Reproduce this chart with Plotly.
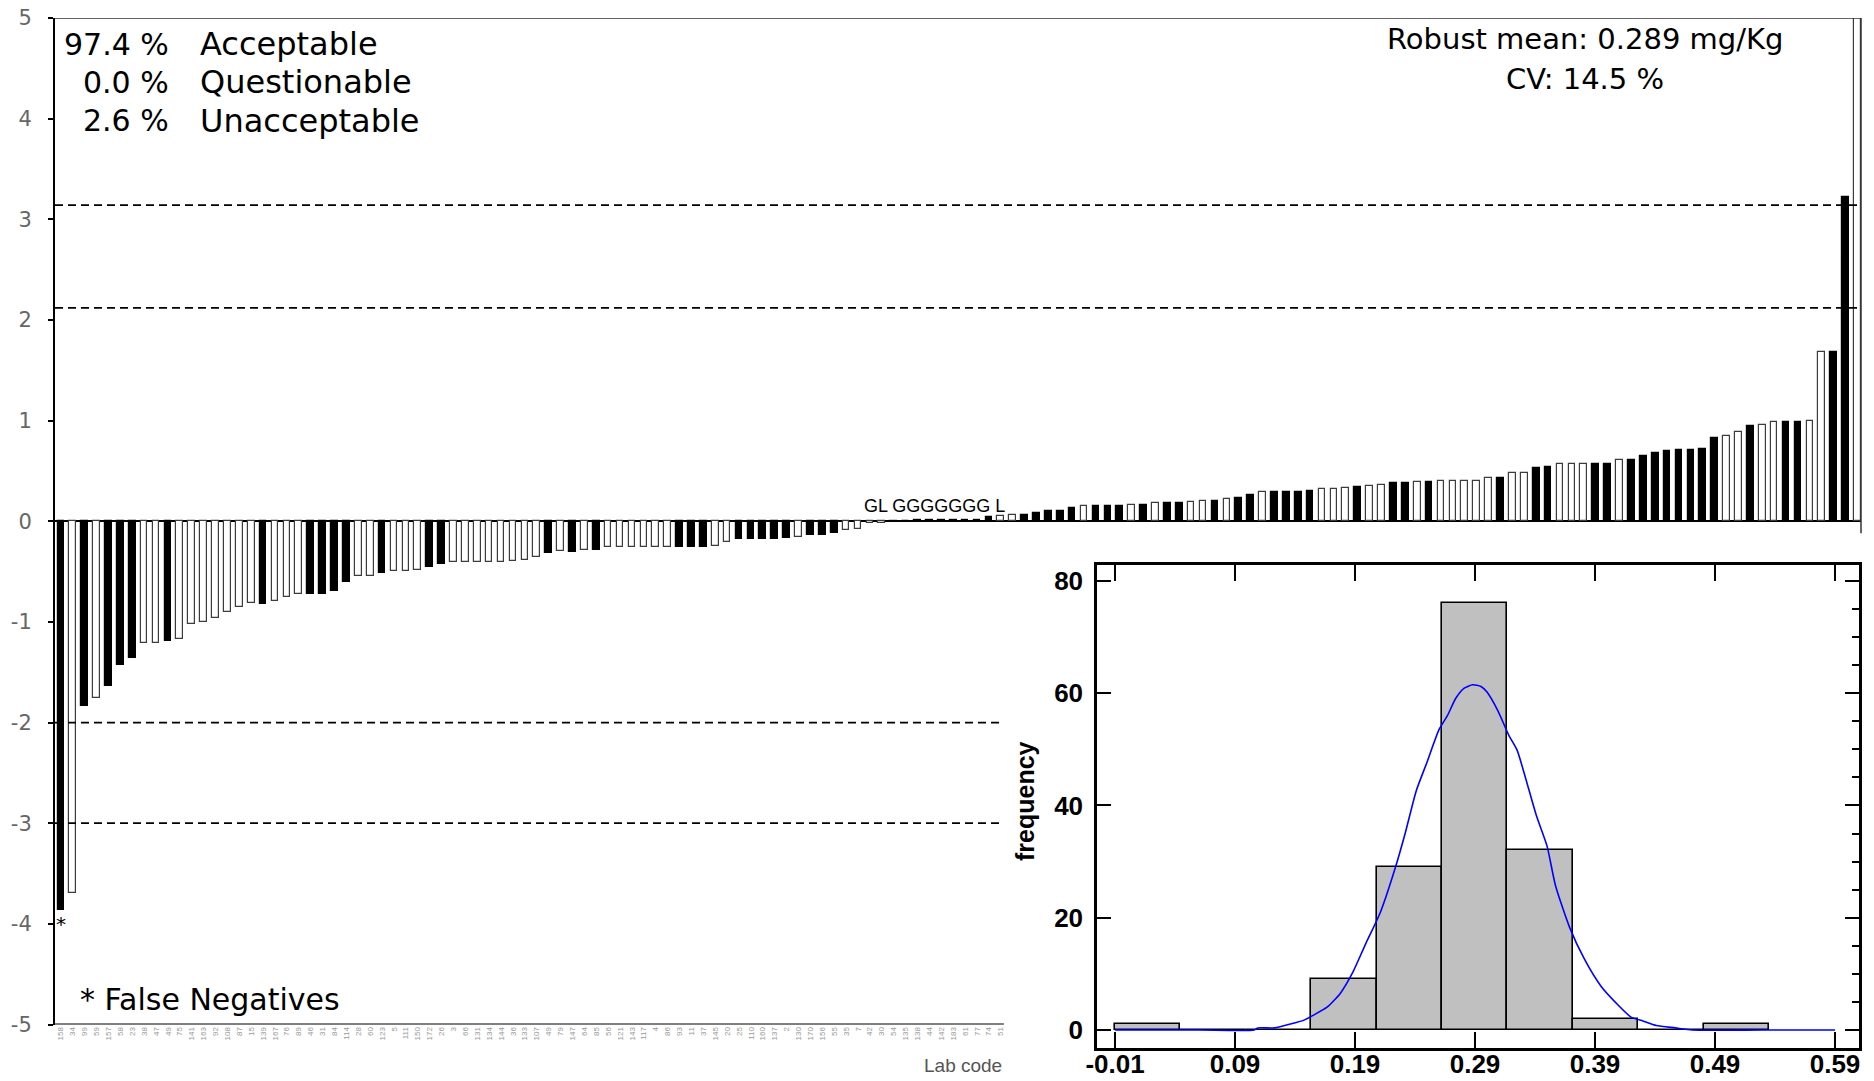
import plotly.graph_objects as go

# Lab codes printed under the first 80 bars (the rest sit behind the histogram inset)
lab_codes = [
    "158", "34", "99", "59", "157", "58", "23", "38", "47", "49",
    "75", "141", "163", "92", "108", "87", "15", "139", "167", "76",
    "89", "46", "31", "84", "114", "28", "60", "123", "5", "111",
    "150", "172", "26", "3", "66", "131", "134", "144", "36", "133",
    "107", "49", "79", "147", "64", "85", "56", "121", "143", "117",
    "4", "86", "93", "11", "37", "145", "20", "25", "110", "160",
    "137", "2", "130", "170", "156", "55", "35", "7", "42", "30",
    "54", "135", "138", "44", "142", "183", "61", "77", "74", "51",
]

# z-scores of all labs, sorted ascending
z_scores = [
    -3.86, -3.69, -1.84, -1.76, -1.64, -1.43, -1.36, -1.21, -1.21, -1.19,
    -1.17, -1.02, -1.00, -0.96, -0.90, -0.85, -0.81, -0.82, -0.79, -0.75,
    -0.72, -0.72, -0.72, -0.69, -0.60, -0.54, -0.54, -0.51, -0.49, -0.49,
    -0.48, -0.45, -0.42, -0.40, -0.40, -0.40, -0.40, -0.40, -0.39, -0.38,
    -0.36, -0.32, -0.30, -0.31, -0.29, -0.29, -0.26, -0.26, -0.26, -0.26,
    -0.26, -0.26, -0.26, -0.26, -0.26, -0.25, -0.21, -0.18, -0.18, -0.18,
    -0.18, -0.165, -0.155, -0.14, -0.14, -0.115, -0.09, -0.08, -0.02, -0.02,
    -0.005, 0.005, 0.012, 0.012, 0.012, 0.012, 0.012, 0.012, 0.043, 0.05,
    0.06, 0.066, 0.083, 0.10, 0.10, 0.13, 0.15, 0.15, 0.15, 0.15,
    0.165, 0.165, 0.178, 0.178, 0.178, 0.19, 0.205, 0.205, 0.22, 0.234,
    0.264, 0.29, 0.29, 0.29, 0.29, 0.30, 0.317, 0.32, 0.333, 0.337,
    0.347, 0.36, 0.376, 0.376, 0.39, 0.39, 0.403, 0.403, 0.403, 0.403,
    0.426, 0.432, 0.475, 0.475, 0.528, 0.541, 0.571, 0.571, 0.571, 0.571,
    0.571, 0.61, 0.61, 0.653, 0.683, 0.70, 0.71, 0.71, 0.72, 0.83,
    0.845, 0.885, 0.947, 0.957, 0.987, 0.987, 0.987, 1.00, 1.68, 1.68,
    3.22, 5.9,
]

# 1 = solid bar, 0 = hollow bar
group = [
    1, 0, 1, 0, 1, 1, 1, 0, 0, 1,
    0, 0, 0, 0, 0, 0, 0, 1, 0, 0,
    0, 1, 1, 1, 1, 0, 0, 1, 0, 0,
    0, 1, 1, 0, 0, 0, 0, 0, 0, 0,
    0, 1, 0, 1, 0, 1, 0, 0, 0, 0,
    0, 0, 1, 1, 1, 0, 0, 1, 1, 1,
    1, 1, 0, 1, 1, 1, 0, 0, 0, 0,
    1, 1, 1, 1, 1, 1, 1, 1, 1, 0,
    0, 1, 1, 1, 1, 1, 0, 1, 1, 1,
    0, 1, 0, 1, 1, 0, 0, 1, 0, 1,
    1, 0, 1, 1, 1, 1, 0, 0, 0, 1,
    0, 0, 1, 1, 0, 1, 0, 0, 0, 0,
    0, 1, 0, 0, 1, 1, 0, 0, 0, 1,
    1, 0, 1, 1, 1, 1, 1, 1, 1, 1,
    0, 0, 1, 0, 0, 1, 1, 0, 0, 1,
    1, 0,
]

upper_limits = [2.12, 3.14]
lower_limits = [-2.0, -3.0]
z_ticks = [-5, -4, -3, -2, -1, 0, 1, 2, 3, 4, 5]

# Histogram of reported concentrations (mg/Kg)
bin_left = [-0.01, 0.0445, 0.099, 0.1535, 0.208, 0.2625, 0.317, 0.3715, 0.426, 0.4805]
bin_count = [1, 0, 0, 9, 29, 76, 32, 2, 0, 1]
bin_width = 0.0545
hist_ticks = [-0.01, 0.09, 0.19, 0.29, 0.39, 0.49, 0.59]
freq_ticks = [0, 20, 40, 60, 80]

# Smoothed density curve
curve_x = [-0.01, 0.06, 0.106, 0.109, 0.123, 0.137, 0.148, 0.155, 0.167, 0.178,
           0.188, 0.199, 0.211, 0.223, 0.232, 0.241, 0.250, 0.260, 0.267, 0.274,
           0.281, 0.288, 0.295, 0.300, 0.309, 0.318, 0.325, 0.332, 0.341, 0.350,
           0.357, 0.369, 0.381, 0.395, 0.409, 0.420, 0.430, 0.441, 0.457, 0.471,
           0.53, 0.59]
curve_y = [0, 0, 0, 0.37, 0.37, 1.1, 1.8, 2.6, 4.1, 6.6,
           10.2, 15.4, 20.9, 28.5, 35.2, 42.6, 47.7, 53.5, 56.0, 59.1,
           60.9, 61.5, 61.2, 60.2, 56.9, 52.6, 49.9, 45.0, 38.3, 32.8,
           25.8, 18.2, 12.7, 7.8, 4.5, 2.3, 1.6, 0.8, 0.37, 0,
           0, 0]

TEXT_FONT = "'DejaVu Sans', Verdana, sans-serif"
BOLD_FONT = "'Liberation Sans', Arial, sans-serif"
N_LABELED = len(lab_codes)
AXIS_END = N_LABELED - 0.74  # where the lower part of the z-score frame stops
X_MIN, X_MAX = -0.49, 151.3

fig = go.Figure()

# z-score bars
idx = list(range(len(z_scores)))
fig.add_trace(go.Bar(
    x=idx, y=z_scores, width=0.56,
    marker=dict(color=["black" if g else "white" for g in group],
                line=dict(color=["black" if g else "#3c3c3c" for g in group], width=1.2)),
    xaxis="x", yaxis="y", showlegend=False, hoverinfo="x+y",
))

# histogram
fig.add_trace(go.Bar(
    x=[b + bin_width / 2 for b in bin_left], y=bin_count, width=bin_width,
    marker=dict(color="#c0c0c0", line=dict(color="black", width=1.6)),
    xaxis="x2", yaxis="y2", showlegend=False,
))
fig.add_trace(go.Scatter(
    x=curve_x, y=curve_y, mode="lines",
    line=dict(color="#0000ff", width=1.6, shape="spline", smoothing=0.6),
    xaxis="x2", yaxis="y2", showlegend=False,
))
# right-hand minor ticks of the histogram
fig.add_trace(go.Scatter(x=[None], y=[None], xaxis="x2", yaxis="y3", showlegend=False))

W, H = 1874, 1081
shapes = []
# frame of the z-score panel
shapes.append(dict(type="line", xref="x domain", yref="y", x0=0, x1=1, y0=5, y1=5,
                   line=dict(color="#333", width=1.5)))
shapes.append(dict(type="line", xref="x domain", yref="y", x0=1, x1=1, y0=-0.12, y1=5,
                   line=dict(color="#333", width=1.5)))
shapes.append(dict(type="line", xref="x", yref="y", x0=X_MIN, x1=AXIS_END, y0=-5, y1=-5,
                   line=dict(color="black", width=2)))
for v in upper_limits:
    shapes.append(dict(type="line", xref="x domain", yref="y", x0=0, x1=1, y0=v, y1=v,
                       line=dict(color="black", width=1.8, dash="8px,5px")))
for v in lower_limits:
    shapes.append(dict(type="line", xref="x", yref="y", x0=X_MIN, x1=AXIS_END, y0=v, y1=v,
                       line=dict(color="black", width=1.8, dash="8px,5px")))

ann = []


def px(x):
    return x / W


def py(y):
    return 1 - y / H


for pct, label, y in [("97.4 %", "Acceptable", 44), ("0.0 %", "Questionable", 82.5),
                      ("2.6 %", "Unacceptable", 121)]:
    ann.append(dict(x=px(171), y=py(y), xref="paper", yref="paper", text=pct, showarrow=False,
                    xanchor="right", yanchor="middle", font=dict(family=TEXT_FONT, size=30, color="black")))
    ann.append(dict(x=px(198), y=py(y), xref="paper", yref="paper", text=label, showarrow=False,
                    xanchor="left", yanchor="middle", font=dict(family=TEXT_FONT, size=32, color="black")))

ann.append(dict(x=px(1585), y=py(39.5), xref="paper", yref="paper", text="Robust mean: 0.289 mg/Kg",
                showarrow=False, xanchor="center", yanchor="middle",
                font=dict(family=TEXT_FONT, size=29, color="black")))
ann.append(dict(x=px(1585), y=py(79), xref="paper", yref="paper", text="CV: 14.5 %",
                showarrow=False, xanchor="center", yanchor="middle",
                font=dict(family=TEXT_FONT, size=29, color="black")))
ann.append(dict(x=px(78), y=py(999), xref="paper", yref="paper", text="* False Negatives",
                showarrow=False, xanchor="left", yanchor="middle",
                font=dict(family=TEXT_FONT, size=30, color="black")))
ann.append(dict(x=0, y=z_scores[0], xref="x", yref="y", text="*", showarrow=False,
                xanchor="center", yanchor="top", font=dict(family=TEXT_FONT, size=20, color="black")))
ann.append(dict(x=73.4, y=0.03, xref="x", yref="y", text="GL GGGGGGG L", showarrow=False,
                xanchor="center", yanchor="bottom",
                font=dict(family="'Liberation Sans', Arial", size=18, color="black")))
ann.append(dict(x=px(1004), y=py(1065), xref="paper", yref="paper", text="Lab code", showarrow=False,
                xanchor="right", yanchor="middle",
                font=dict(family="'Liberation Sans', Arial", size=19, color="#555")))
ann.append(dict(x=px(1025), y=py(801), xref="paper", yref="paper", text="frequency", showarrow=False,
                textangle=-90, xanchor="center", yanchor="middle",
                font=dict(family=BOLD_FONT, size=25, color="black", weight="bold")))

fig.update_layout(
    template="none",
    width=W, height=H, margin=dict(l=0, r=0, t=0, b=0, autoexpand=False),
    paper_bgcolor="white", plot_bgcolor="rgba(0,0,0,0)",
    bargap=0, barmode="overlay",
    xaxis=dict(domain=[55 / W, 1861 / W], range=[X_MIN, X_MAX], anchor="y", automargin=False,
               tickmode="array", tickvals=list(range(N_LABELED)), ticktext=lab_codes,
               tickangle=-90, tickfont=dict(family="'Liberation Sans', Arial", size=8, color="#999"),
               ticks="", showline=False, showgrid=False, zeroline=False),
    yaxis=dict(domain=[1 - 1024.5 / H, 1 - 18 / H], range=[-5, 5], anchor="x", automargin=False,
               tickmode="array", tickvals=z_ticks, ticktext=[str(t) for t in z_ticks],
               tickfont=dict(family=TEXT_FONT, size=21, color="#666"),
               ticks="outside", ticklen=5, tickwidth=1.5, tickcolor="black", ticklabelstandoff=12,
               showline=True, linewidth=2, linecolor="black",
               zeroline=True, zerolinecolor="black", zerolinewidth=2, showgrid=False),
    xaxis2=dict(domain=[1097 / W, 1859 / W], range=[-0.025, 0.61], anchor="y2", automargin=False,
                tickmode="array", tickvals=hist_ticks, ticktext=[f"{t:.2f}" for t in hist_ticks],
                tickfont=dict(family=BOLD_FONT, size=26, color="black", weight="bold"),
                ticks="inside", ticklen=16, tickwidth=2, tickcolor="black", ticklabelstandoff=-9,
                showline=True, linewidth=2.5, linecolor="black", mirror="ticks",
                showgrid=False, zeroline=False),
    yaxis2=dict(domain=[1 - 1048 / H, 1 - 565 / H], range=[-3.21, 82.85], anchor="x2", automargin=False,
                tickmode="array", tickvals=freq_ticks,
                tickfont=dict(family=BOLD_FONT, size=26, color="black", weight="bold"),
                ticks="inside", ticklen=14, tickwidth=2, tickcolor="black", ticklabelstandoff=6,
                showline=True, linewidth=2.5, linecolor="black", mirror=True,
                showgrid=False, zeroline=False),
    yaxis3=dict(overlaying="y2", side="right", anchor="x2", range=[-3.21, 82.85], automargin=False,
                tickmode="array", tickvals=freq_ticks, showticklabels=False,
                ticks="inside", ticklen=14, tickwidth=2, tickcolor="black",
                minor=dict(tickmode="array", tickvals=[v for v in range(0, 81, 5) if v % 20],
                           ticks="inside", ticklen=7, tickwidth=2, tickcolor="black"),
                showline=False, showgrid=False, zeroline=False),
    shapes=shapes, annotations=ann,
)

fig.write_html("out.html")
